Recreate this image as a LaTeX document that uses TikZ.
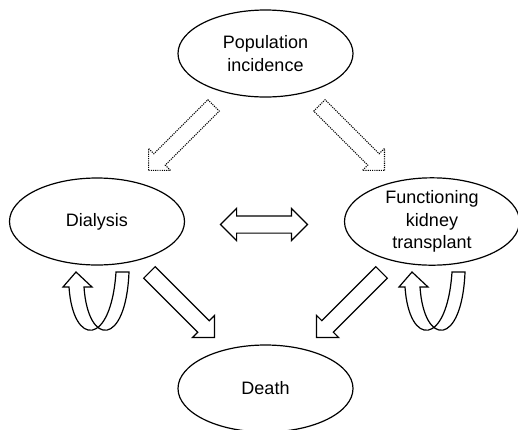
\documentclass[tikz,border=0pt]{standalone}
\usepackage{fontspec}
\setmainfont{Liberation Sans}
\usetikzlibrary{shapes.geometric,shapes.arrows}
\tikzset{>=latex}
\tikzset{
	state/.style={ellipse,draw,line width=1.2pt,minimum width=175pt,minimum height=87pt,inner sep=0pt,align=center,font=\fontsize{18}{22.5}\selectfont},
	flow/.style={single arrow,draw,line width=1.2pt,single arrow head extend=7.5pt,single arrow tip angle=90,minimum height=92pt,inner xsep=0pt,inner ysep=7.5pt,anchor=tail},
	entry/.style={flow,line width=1.1pt,dash pattern=on 1.1pt off 1.1pt},
	transfer/.style={double arrow,draw,line width=1.2pt,double arrow head extend=7.5pt,double arrow tip angle=90,minimum height=87pt,inner xsep=0pt,inner ysep=8pt},
	selfloop/.pic={
		\draw[line width=1.2pt] (8,-15) -- (16,-15) -- (0,0) -- (-13,-15) -- (-7,-15)
			.. controls (-3,-75) and (35,-75) .. (40,0) -- (53,0)
			.. controls (50,-75) and (12,-75) .. (8,-15) -- cycle;
	}
}

\begin{document}
\begin{tikzpicture}[x=1pt,y=1pt]
	\useasboundingbox (0,0) rectangle (518,-429);

	% Defining the states
	\node[state] (pop) at (265.5,-53.5) {Population\\incidence}; %Incidence
	\node[state] (dial) at (97,-221.5) {Dialysis}; %Dialysis
	\node[state] (ktx) at (432,-221.5) {Functioning\\kidney\\transplant}; %Transplant
	\node[state] (death) at (265.5,-388.5) {Death}; %Death

	% Drawing the flows
	\node[entry,rotate=225] (popdial) at (214,-105) {};
	\node[entry,rotate=-45] (popktx) at (319,-105) {};
	\node[transfer] (dialktx) at (264,-224.5) {};
	\node[flow,rotate=-45] (dialdeath) at (149,-272) {};
	\node[flow,rotate=225] (ktxdeath) at (382,-272) {};

	% Staying in the same state
	\pic (dialstay) at (76,-272) {selfloop};
	\pic (ktxstay) at (412,-272) {selfloop};
\end{tikzpicture}
\end{document}
